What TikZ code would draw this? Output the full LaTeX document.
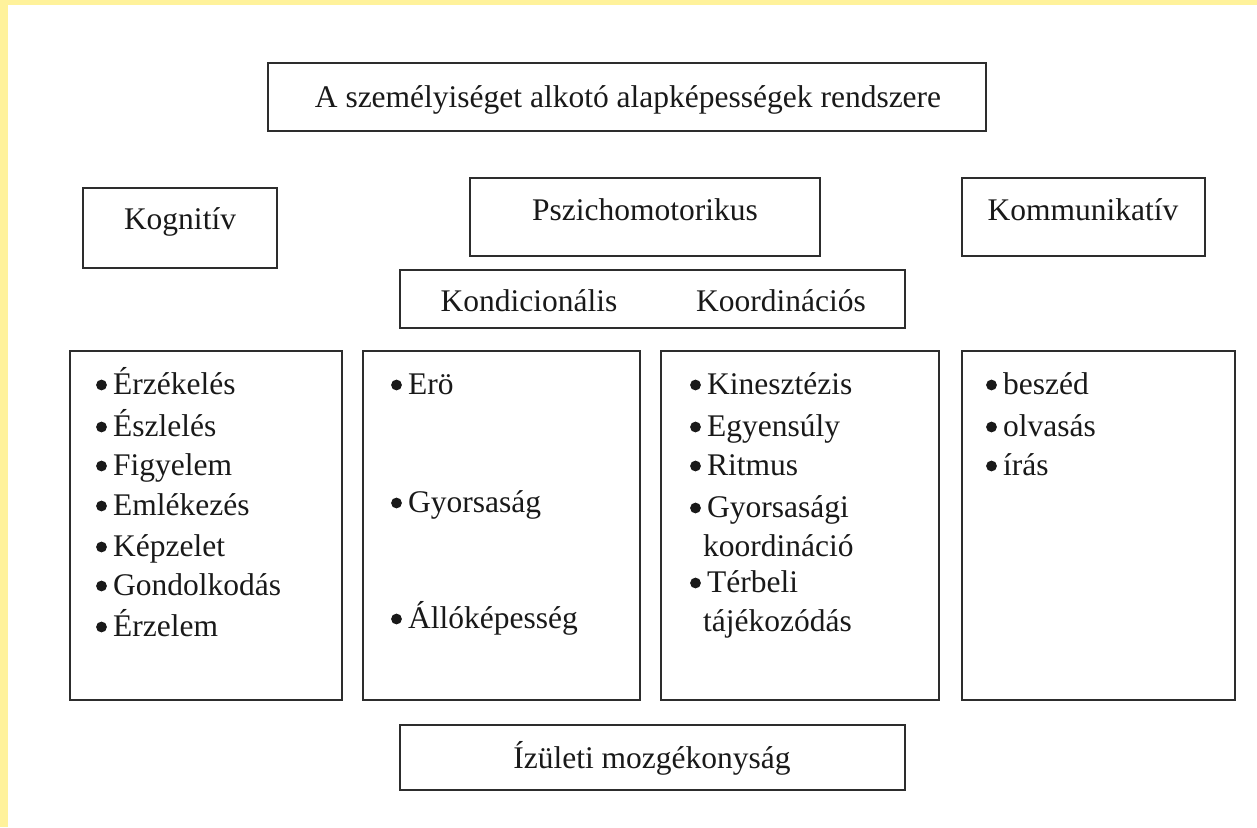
\documentclass[tikz,border=0pt]{standalone}
\usepackage{fontspec}
\setmainfont{Liberation Serif}
\definecolor{frameyellow}{RGB}{255,242,155}
\definecolor{boxline}{RGB}{45,45,45}
\begin{document}
\begin{tikzpicture}[x=1pt,y=-1pt,
  box/.style={draw=boxline,line width=2.4pt,rectangle,inner sep=0pt},
  txt/.style={inner sep=0pt,font=\fontsize{31.5}{36}\selectfont,text=black!90},
  item/.style={txt,anchor=mid west,text height=19pt,text depth=6pt},
  bullet/.style={fill=black!90}]
\useasboundingbox (0,0) rectangle (1257,827);
\fill[white] (0,0) rectangle (1257,827);
\fill[frameyellow] (0,0) rectangle (1257,5);
\fill[frameyellow] (0,0) rectangle (8,827);
% boxes
\node[box,minimum width=718pt,minimum height=68pt] (title) at (627,97) {};
\node[box,minimum width=194pt,minimum height=80pt] (kog) at (180,228) {};
\node[box,minimum width=350pt,minimum height=78pt] (psz) at (645,217) {};
\node[box,minimum width=243pt,minimum height=78pt] (kom) at (1083.5,217) {};
\node[box,minimum width=505pt,minimum height=58pt] (kk) at (652.5,299) {};
\node[box,minimum width=272pt,minimum height=349pt] (b1) at (206,525.5) {};
\node[box,minimum width=277pt,minimum height=349pt] (b2) at (501.5,525.5) {};
\node[box,minimum width=278pt,minimum height=349pt] (b3) at (800,525.5) {};
\node[box,minimum width=273pt,minimum height=349pt] (b4) at (1098.5,525.5) {};
\node[box,minimum width=505pt,minimum height=65pt] (bot) at (652.5,757.5) {};
% headings
\node[txt,anchor=mid] (ttitle) at (628,105) {A személyiséget alkotó alapképességek rendszere};
\node[txt,anchor=mid] (tkog) at (180,227) {Kognitív};
\node[txt,anchor=mid] (tpsz) at (645,218) {Pszichomotorikus};
\node[txt,anchor=mid] (tkom) at (1083,218) {Kommunikatív};
\node[txt,anchor=mid] (tkond) at (529,309) {Kondicionális};
\node[txt,anchor=mid] (tkoord) at (781,309) {Koordinációs};
\node[txt,anchor=mid] (tbot) at (652,766) {Ízületi mozgékonyság};
% box 1
\node[item] (a1) at (113,392) {Érzékelés};
\node[item] (a2) at (113,434) {Észlelés};
\node[item] (a3) at (113,473) {Figyelem};
\node[item] (a4) at (113,513) {Emlékezés};
\node[item] (a5) at (113,554) {Képzelet};
\node[item] (a6) at (113,593) {Gondolkodás};
\node[item] (a7) at (113,634) {Érzelem};
% box 2
\node[item] (c1) at (408,392) {Erö};
\node[item] (c2) at (408,510) {Gyorsaság};
\node[item] (c3) at (408,626) {Állóképesség};
% box 3
\node[item] (d1) at (707,392) {Kinesztézis};
\node[item] (d2) at (707,434) {Egyensúly};
\node[item] (d3) at (707,473) {Ritmus};
\node[item] (d4) at (707,515) {Gyorsasági};
\node[item] (d5) at (703,554) {koordináció};
\node[item] (d6) at (707,590) {Térbeli};
\node[item] (d7) at (703,629) {tájékozódás};
% box 4
\node[item] (e1) at (1003,392) {beszéd};
\node[item] (e2) at (1003,434) {olvasás};
\node[item] (e3) at (1003,473) {írás};
% bullets
\foreach \n in {a1,a2,a3,a4,a5,a6,a7,c1,c2,c3,d1,d2,d3,d4,d6,e1,e2,e3}
  \fill[bullet] ([xshift=-11.5pt,yshift=7pt]\n.mid west) circle (5.4pt);
\end{tikzpicture}
\end{document}
